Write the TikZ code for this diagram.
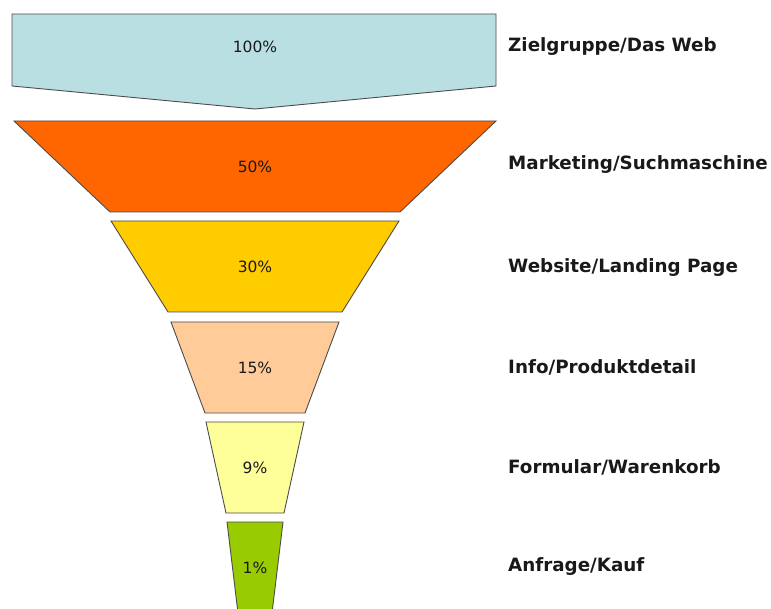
\documentclass[tikz,border=0pt]{standalone}
\usepackage{fontspec}
\setmainfont{DejaVu Sans}

\definecolor{webblue}{HTML}{B9DFE3}
\definecolor{funnelorange}{HTML}{FF6600}
\definecolor{funnelyellow}{HTML}{FFCC00}
\definecolor{funnelpeach}{HTML}{FFCC99}
\definecolor{funnellemon}{HTML}{FFFF99}
\definecolor{funnelgreen}{HTML}{99CC00}

\tikzset{
	stage/.style={draw=black!70, line width=0.9pt, line join=miter},
	pct/.style={font=\fontsize{15.5}{17}\selectfont, text=black!90, inner sep=0pt},
	stagelabel/.style={anchor=west, font=\fontsize{18.3}{20}\selectfont\bfseries, text=black!90, inner sep=0pt}
}

\begin{document}
\begin{tikzpicture}[x=1pt,y=-1pt]
	
	% frame of the picture
	\clip (0,0) rectangle (771,609);
	\fill[white] (0,0) rectangle (771,609);
	
	% top box with the arrow point
	\filldraw[stage, fill=webblue] (12,14) -- (496,14) -- (496,86) -- (255,109) -- (12,86) -- cycle;
	\node[pct] (pct1) at (255,47) {100\%};
	
	% funnel stages: top y / bottom y / top half width / bottom half width / colour / value
	\foreach \yt/\yb/\wt/\wb/\col/\val [count=\i from 2] in {
		121/212/241/145/funnelorange/50,
		221/312/144/87/funnelyellow/30,
		322/413/84/50/funnelpeach/15,
		422/513/49/29/funnellemon/9,
		522/613/28/17/funnelgreen/1}{
		\filldraw[stage, fill=\col] (255-\wt,\yt) -- (255+\wt,\yt) -- (255+\wb,\yb) -- (255-\wb,\yb) -- cycle;
		\node[pct] (pct\i) at (255,{(\yt+\yb)/2}) {\val\%};
	}
	
	% stage names
	\node[stagelabel] (name1) at (508,47) {Zielgruppe/Das Web};
	\node[stagelabel] (name2) at (508,165) {Marketing/Suchmaschine};
	\node[stagelabel] (name3) at (508,268) {Website/Landing Page};
	\node[stagelabel] (name4) at (508,367) {Info/Produktdetail};
	\node[stagelabel] (name5) at (508,467) {Formular/Warenkorb};
	\node[stagelabel] (name6) at (508,567) {Anfrage/Kauf};
	
\end{tikzpicture}
\end{document}
